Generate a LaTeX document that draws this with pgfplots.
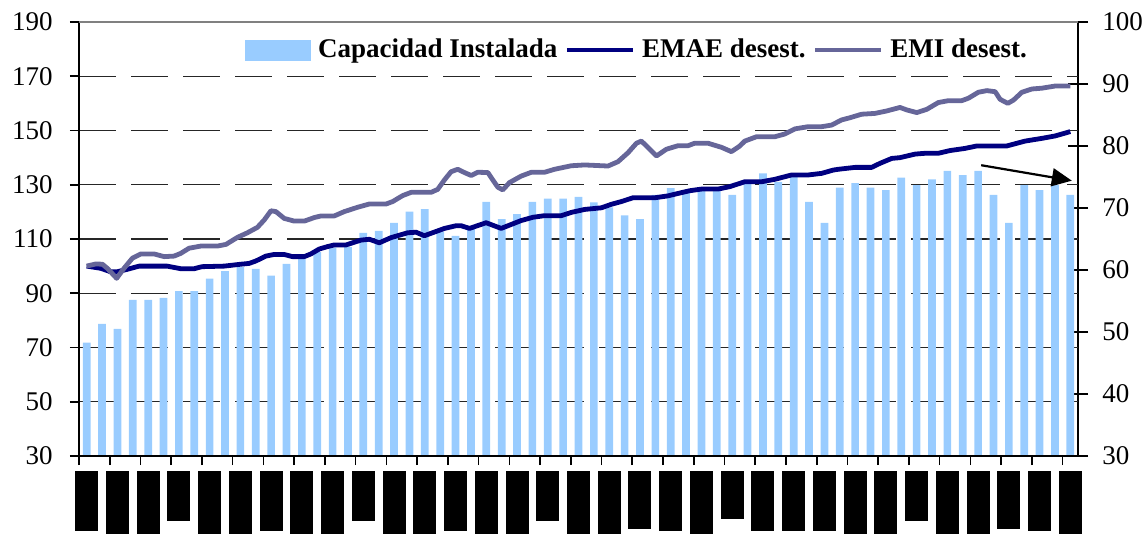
\documentclass[border=0pt]{standalone}
\usepackage{pgfplots}
\pgfplotsset{compat=1.18}
\usepackage{pgfplotstable}
\usepackage{fontspec}
\setmainfont{Liberation Serif}
\usetikzlibrary{arrows.meta}

\definecolor{barblue}{HTML}{99CCFF}
\definecolor{emaecol}{HTML}{000080}
\definecolor{emicol}{HTML}{666699}

\newcommand\tickfont{\fontsize{13.5}{16}\selectfont}
\newcommand\legfont{\fontsize{13.5}{16}\selectfont\bfseries}
% black blocks standing in for the unreadable date labels
\newcommand\blk[1]{\rule{11.5pt}{#1}}

% Capacidad instalada (right axis, %)
\pgfplotstableread{
x v
0 48.3
1 51.3
2 50.5
3 55.2
4 55.2
5 55.5
6 56.6
7 56.6
8 58.6
9 59.8
10 60.5
11 60.2
12 59.1
13 61.0
14 61.8
15 62.9
16 63.6
17 63.7
18 66.0
19 66.3
20 67.6
21 69.4
22 69.8
23 66.2
24 65.5
25 66.6
26 71.0
27 68.2
28 69.0
29 71.0
30 71.5
31 71.5
32 71.8
33 70.9
34 70.1
35 68.8
36 68.2
37 72.1
38 73.2
39 72.6
40 72.9
41 72.9
42 72.1
43 74.1
44 75.6
45 74.2
46 75.0
47 71.0
48 67.6
49 73.3
50 74.0
51 73.3
52 72.9
53 74.9
54 73.7
55 74.6
56 76.0
57 75.3
58 76.0
59 72.1
60 67.6
61 73.7
62 72.9
63 73.7
64 72.1
}\tabcap

% EMAE desestacionalizado (left axis)
\pgfplotstableread{
x v
0 100
0.91 99.2
1.56 97.9
1.97 97.9
2.63 98.8
3.41 100.0
5.23 100.0
6.12 99.05
6.99 99.05
7.51 99.8
8.94 100.0
10.03 100.7
10.57 101.0
11.01 101.9
11.66 103.7
12.20 104.3
12.85 104.3
13.39 103.5
14.16 103.5
14.59 104.5
15.13 106.3
15.67 107.2
16.11 107.8
16.87 107.8
17.85 109.6
18.39 109.9
19.04 108.6
19.80 110.5
20.89 112.3
21.43 112.5
21.97 111.2
23.28 113.9
24.04 114.9
24.36 114.9
24.91 113.9
25.99 116.0
26.97 113.9
28.27 116.8
29.03 118.0
29.79 118.6
30.88 118.6
31.53 119.8
32.40 120.9
33.49 121.5
34.14 122.8
34.79 123.8
35.54 125.2
36.96 125.2
37.82 125.9
38.48 126.8
39.24 127.8
40.00 128.4
41.08 128.4
41.84 129.3
42.82 131.1
43.91 131.1
44.77 132.0
45.86 133.6
46.94 133.6
47.82 134.2
48.57 135.4
48.90 135.7
50.00 136.4
51.07 136.4
51.62 137.9
52.38 139.7
52.92 140.0
53.90 141.3
54.55 141.6
55.41 141.6
56.17 142.6
57.15 143.4
57.92 144.3
59.87 144.3
61.06 146.1
62.15 147.1
63.02 148.0
64 149.6
}\tabemae

% EMI desestacionalizado (left axis)
\pgfplotstableread{
x v
0 100
0.59 100.8
1.02 100.7
1.34 99.2
1.95 95.5
2.43 99.2
2.97 102.9
3.52 104.5
4.38 104.5
5.04 103.5
5.69 103.7
6.12 104.7
6.66 106.6
7.43 107.4
8.51 107.4
9.06 108.0
9.81 110.6
10.46 112.3
11.11 114.3
11.55 117.0
11.99 120.4
12.31 120.1
12.85 117.6
13.50 116.6
14.16 116.6
14.81 117.9
15.24 118.5
16.11 118.5
16.76 120.1
17.63 121.7
18.39 122.9
19.48 122.9
19.91 123.8
20.56 126.0
21.11 127.2
22.41 127.2
22.84 128.3
23.28 131.8
23.71 134.8
24.14 135.7
24.58 134.5
25.02 133.4
25.45 134.6
26.10 134.5
26.42 131.8
26.75 129.1
27.07 128.1
27.51 130.8
28.27 133.2
28.93 134.6
29.79 134.6
30.44 135.7
31.53 137.0
32.40 137.3
33.92 136.9
34.57 138.5
35.22 141.8
35.77 145.3
36.09 146.1
36.42 144.3
37.07 140.6
37.72 143.1
38.48 144.4
39.13 144.4
39.56 145.3
40.43 145.3
41.30 143.8
41.95 142.2
42.50 144.3
42.82 146.1
43.58 147.7
44.77 147.7
45.42 148.7
46.08 150.6
46.94 151.4
47.82 151.4
48.47 152.0
49.12 153.9
49.66 154.7
50.42 156.0
51.29 156.3
52.05 157.2
52.92 158.5
53.35 157.6
54.01 156.6
54.66 157.8
55.41 160.3
56.07 161.0
56.94 161.0
57.37 161.9
58.02 164.1
58.57 164.7
59.11 164.3
59.43 161.5
59.93 160.0
60.30 161.2
60.85 164.1
61.50 165.3
62.15 165.6
63.02 166.4
64 166.4
}\tabemi

\begin{document}
\begin{tikzpicture}
% bars on the right axis, with the dashed grid of the left scale
\begin{axis}[
    scale only axis, width=499.5pt, height=217pt,
    xmin=-0.5, xmax=64.5, ymin=30, ymax=100,
    axis y line*=right, axis x line*=bottom,
    axis line style={black, line width=1pt},
    xtick=\empty,
    ytick={30,40,...,100},
    tick align=center, major tick length=10pt,
    tick style={black, line width=0.8pt},
    /pgf/number format/assume math mode=true,
    yticklabel style={font=\tickfont, anchor=west, inner sep=0pt, xshift=7pt},
    extra y ticks={38.75,47.5,56.25,65,73.75,82.5,91.25},
    extra y tick labels={},
    extra y tick style={grid=major, major tick length=0pt,
        major grid style={black!85, line width=0.6pt, dash pattern=on 18.5pt off 7.5pt}},
  ]
  \addplot[ybar, bar width=0.5, fill=barblue, draw=none] table[x=x, y=v] {\tabcap};
\end{axis}
% lines on the left axis
\begin{axis}[
    scale only axis, width=499.5pt, height=217pt,
    xmin=-0.5, xmax=64.5, ymin=30, ymax=190,
    axis y line*=left, axis x line*=bottom,
    axis line style={black, line width=0.8pt},
    clip=false,
    ytick={30,50,...,190},
    xtick={-0.5,1.5,...,63.5}, xticklabels={},
    tick align=outside, major tick length=4.5pt,
    tick style={black, line width=0.8pt},
    /pgf/number format/assume math mode=true,
    yticklabel style={font=\tickfont, anchor=east, inner sep=0pt, xshift=-8.5pt},
    extra x ticks={0,2,...,64},
    extra x tick labels={\blk{30pt},\blk{31.5pt},\blk{31.5pt},\blk{25pt},\blk{31.5pt},\blk{31.5pt},
      \blk{30pt},\blk{31.5pt},\blk{31.5pt},\blk{25pt},\blk{31.5pt},\blk{31.5pt},
      \blk{30pt},\blk{31.5pt},\blk{31.5pt},\blk{25pt},\blk{31.5pt},\blk{31.5pt},
      \blk{29pt},\blk{30pt},\blk{31.5pt},\blk{24pt},\blk{30pt},\blk{30pt},
      \blk{30pt},\blk{31.5pt},\blk{31.5pt},\blk{25pt},\blk{31.5pt},\blk{31.5pt},
      \blk{29pt},\blk{30pt},\blk{31.5pt}},
    extra x tick style={major tick length=0pt,
        xticklabel style={anchor=north, inner sep=0pt, yshift=-7.5pt}},
    legend style={draw=none, fill=none, at={(0.166,0.9355)}, anchor=west,
        legend columns=3, font=\legfont, inner sep=0pt,
        nodes={inner sep=0pt},
        /tikz/every even column/.append style={column sep=3.5pt},
        /tikz/every odd column/.append style={column sep=3.5pt}},
    legend image code/.code={\draw[#1] (0pt,0pt) -- (33pt,0pt);},
  ]
  \addlegendimage{legend image code/.code={\fill[barblue] (0pt,-5pt) rectangle (32.5pt,5pt);}}
  \addlegendentry{Capacidad Instalada}
  \addplot[emaecol, line width=2.4pt, line join=round] table[x=x, y=v] {\tabemae};
  \addlegendentry{EMAE desest.}
  \addplot[emicol, line width=2.4pt, line join=round] table[x=x, y=v] {\tabemi};
  \addlegendentry{EMI desest.}
  \draw[gray, line width=1pt] (rel axis cs:0,1) -- (rel axis cs:1,1);
  \draw[black, line width=1.1pt, -{Triangle[length=10pt, width=9pt]}]
    (axis cs:58.2,137.2) -- (axis cs:64.1,131.5);
\end{axis}
\pgfresetboundingbox
\path ([xshift=-39.5pt, yshift=-39pt]current axis.south west)
  rectangle ([xshift=34.5pt, yshift=11pt]current axis.north east);
\end{tikzpicture}
\end{document}
